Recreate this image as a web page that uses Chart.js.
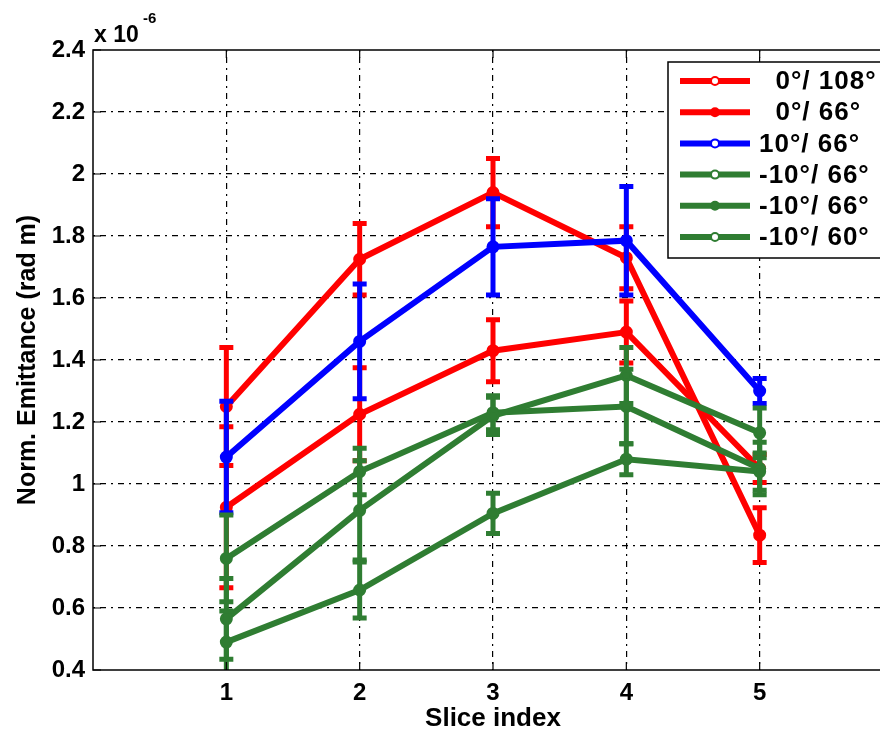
<!DOCTYPE html>
<html><head><meta charset="utf-8">
<script src="https://cdn.jsdelivr.net/npm/chart.js@4"></script>
<style>html,body{margin:0;padding:0;overflow:hidden;background:#fff;width:880px;height:732px}canvas{display:block}</style>
</head><body>
<canvas id="c" width="905" height="732"></canvas>
<script>
// ---- data (emittance values in units of 1e-6 rad m) ----
const sliceIndex = [1, 2, 3, 4, 5];
const xTickLabels = ['1', '2', '3', '4', '5'];
const yTicks = [0.4, 0.6, 0.8, 1.0, 1.2, 1.4, 1.6, 1.8, 2.0, 2.2, 2.4];
const seriesLabels = ['  0°/ 108°', '  0°/ 66°', '10°/ 66°', '-10°/ 66°', '-10°/ 66°', '-10°/ 60°'];

const red0_108    = [1.25, 1.725, 1.94, 1.73, 0.835];
const red0_108Err = [0.19, 0.115, 0.11, 0.10, 0.088];
const red0_66     = [0.925, 1.225, 1.43, 1.49, 1.05];
const red0_66Err  = [0.26, 0.15, 0.10, 0.10, 0.045];
const blue10_66    = [1.087, 1.46, 1.765, 1.785, 1.30];
const blue10_66Err = [0.18, 0.185, 0.155, 0.175, 0.04];
const greenM10_66a    = [0.76, 1.04, 1.23, 1.25, 1.05];
const greenM10_66aErr = [0.14, 0.075, 0.055, 0.12, 0.085];
const greenM10_66b    = [0.565, 0.915, 1.22, 1.35, 1.165];
const greenM10_66bErr = [0.13, 0.16, 0.06, 0.09, 0.08];
const greenM10_60     = [0.49, 0.658, 0.905, 1.08, 1.04];
const greenM10_60Err  = [0.10, 0.09, 0.065, 0.05, 0.06];

const RED = '#ff0000', BLUE = '#0000ff', GREEN = '#2f7d32';
const FONT = "'Liberation Sans', Arial, Helvetica, sans-serif";

const seriesValues = [red0_108, red0_66, blue10_66, greenM10_66a, greenM10_66b, greenM10_60];
const seriesErrors = [red0_108Err, red0_66Err, blue10_66Err, greenM10_66aErr, greenM10_66bErr, greenM10_60Err];
const seriesColors = [RED, RED, BLUE, GREEN, GREEN, GREEN];
const seriesOpenMarker = [true, false, true, true, false, true];

const datasets = seriesValues.map((vals, k) => ({
  label: seriesLabels[k],
  data: sliceIndex.map((x, i) => ({ x: x, y: vals[i] })),
  errors: seriesErrors[k],
  openMarker: seriesOpenMarker[k],
  borderColor: seriesColors[k],
  backgroundColor: seriesColors[k],
  pointBackgroundColor: seriesColors[k],
  pointBorderColor: seriesColors[k],
  borderWidth: 6,
  pointRadius: 5,
  pointBorderWidth: 3,
  tension: 0,
  fill: false,
  order: seriesValues.length - k
}));

const errorBarPlugin = {
  id: 'errorBars',
  beforeDatasetDraw(chart, args) {
    const ds = chart.data.datasets[args.index];
    const xs = chart.scales.x, ys = chart.scales.y, ctx = chart.ctx, a = chart.chartArea;
    ctx.save();
    ctx.beginPath(); ctx.rect(a.left, a.top, a.right - a.left, a.bottom - a.top); ctx.clip();
    ctx.strokeStyle = ds.borderColor;
    ctx.lineCap = 'butt';
    ds.data.forEach((p, i) => {
      const e = ds.errors[i];
      const x = xs.getPixelForValue(p.x);
      const y1 = ys.getPixelForValue(p.y + e), y2 = ys.getPixelForValue(p.y - e);
      ctx.lineWidth = 5;
      ctx.beginPath(); ctx.moveTo(x, y1); ctx.lineTo(x, y2); ctx.stroke();
      ctx.lineWidth = 5;
      ctx.beginPath();
      ctx.moveTo(x - 7, y1); ctx.lineTo(x + 7, y1);
      ctx.moveTo(x - 7, y2); ctx.lineTo(x + 7, y2);
      ctx.stroke();
    });
    ctx.restore();
  }
};

const framePlugin = {
  id: 'frame',
  afterDatasetsDraw(chart) {
    const ctx = chart.ctx, a = chart.chartArea, xs = chart.scales.x, ys = chart.scales.y;
    ctx.save();
    ctx.strokeStyle = '#000'; ctx.lineWidth = 1.5;
    ctx.strokeRect(a.left, a.top, a.right - a.left, a.bottom - a.top);
    ctx.lineWidth = 1.2;
    ctx.beginPath();
    yTicks.forEach(v => {
      const y = ys.getPixelForValue(v);
      ctx.moveTo(a.left, y); ctx.lineTo(a.left + 8, y);
      ctx.moveTo(a.right, y); ctx.lineTo(a.right - 8, y);
    });
    sliceIndex.forEach(v => {
      const x = xs.getPixelForValue(v);
      ctx.moveTo(x, a.bottom); ctx.lineTo(x, a.bottom - 8);
      ctx.moveTo(x, a.top); ctx.lineTo(x, a.top + 8);
    });
    ctx.stroke();

    // multiplier label
    ctx.fillStyle = '#000';
    ctx.textBaseline = 'alphabetic'; ctx.textAlign = 'left';
    ctx.font = 'bold 23px ' + FONT;
    ctx.fillText('x 10', 94, 42);
    ctx.font = 'bold 15px ' + FONT;
    ctx.fillText('-6', 143, 23);

    // legend
    const lx = 668, ly = 62, lw = 250, lh = 196;
    ctx.fillStyle = '#fff';
    ctx.fillRect(lx, ly, lw, lh);
    ctx.lineWidth = 1.5; ctx.strokeStyle = '#000';
    ctx.strokeRect(lx, ly, lw, lh);
    chart.data.datasets.forEach((ds, k) => {
      const y = 81 + k * 31.2;
      ctx.strokeStyle = ds.borderColor; ctx.lineWidth = 6;
      ctx.beginPath(); ctx.moveTo(680, y); ctx.lineTo(750, y); ctx.stroke();
      ctx.beginPath(); ctx.arc(715, y, 4, 0, Math.PI * 2);
      ctx.fillStyle = ds.openMarker ? '#fff' : ds.borderColor;
      ctx.lineWidth = 2; ctx.fill(); ctx.stroke();
      ctx.fillStyle = '#000';
      ctx.font = 'bold 26px ' + FONT;
      ctx.letterSpacing = '1px';
      ctx.textBaseline = 'middle';
      ctx.fillText(ds.label, 759, y + 1);
      ctx.letterSpacing = '0px';
    });
    ctx.restore();
  }
};

const gridDash = [2, 5, 6, 5];

new Chart(document.getElementById('c'), {
  type: 'line',
  data: { datasets: datasets },
  plugins: [errorBarPlugin, framePlugin],
  options: {
    responsive: false,
    animation: false,
    devicePixelRatio: 1,
    layout: { padding: { top: 50, right: 12, left: 0, bottom: 0 } },
    plugins: { legend: { display: false }, tooltip: { enabled: false } },
    scales: {
      x: {
        type: 'linear', min: 0, max: 6,
        afterBuildTicks(s) { s.ticks = [0, 1, 2, 3, 4, 5, 6].map(v => ({ value: v })); },
        afterFit(s) { s.height = 62; },
        ticks: {
          padding: 9, color: '#000', maxRotation: 0,
          font: { family: FONT, size: 24, weight: 'bold' },
          callback(v) { const i = sliceIndex.indexOf(v); return i >= 0 ? xTickLabels[i] : ''; }
        },
        grid: {
          drawTicks: false, lineWidth: 1.2,
          color(c) { return sliceIndex.indexOf(c.tick.value) >= 0 ? '#000' : 'rgba(0,0,0,0)'; }
        },
        border: { display: false, dash: gridDash },
        title: { display: true, text: 'Slice index', color: '#000', padding: 0,
                 font: { family: FONT, size: 26, weight: 'bold', lineHeight: 1 } }
      },
      y: {
        type: 'linear', min: 0.4, max: 2.4,
        afterBuildTicks(s) { s.ticks = yTicks.map(v => ({ value: v })); },
        afterFit(s) { s.width = 93; },
        ticks: {
          padding: 8, color: '#000',
          font: { family: FONT, size: 24, weight: 'bold' },
          callback(v) { return String(Math.round(v * 10) / 10); }
        },
        grid: {
          drawTicks: false, lineWidth: 1.2,
          color(c) { const v = c.tick.value; return (v > 0.45 && v < 2.35) ? '#000' : 'rgba(0,0,0,0)'; }
        },
        border: { display: false, dash: gridDash },
        title: { display: true, text: 'Norm. Emittance (rad m)', color: '#000', padding: { top: 13, bottom: 0 },
                 font: { family: FONT, size: 25, weight: 'bold', lineHeight: 1.2 } }
      }
    }
  }
});
</script>
</body></html>
